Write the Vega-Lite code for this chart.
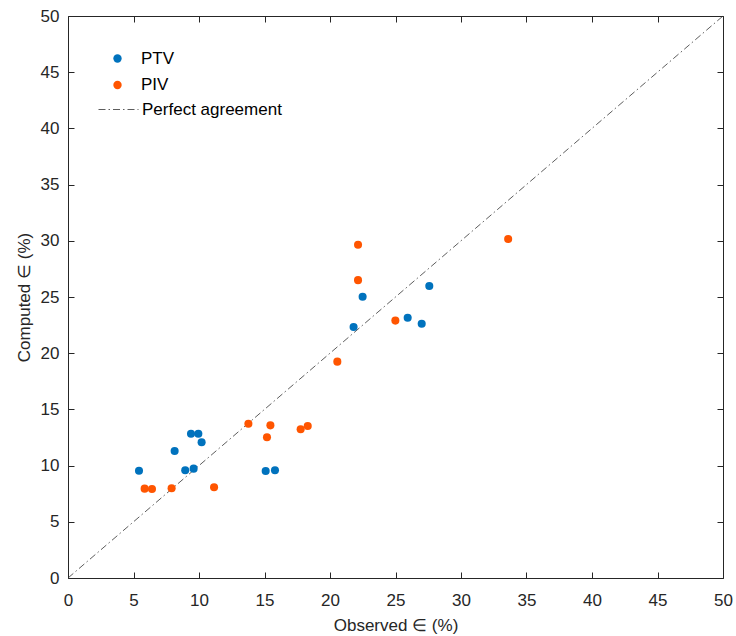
{
  "$schema": "https://vega.github.io/schema/vega-lite/v6.json",
  "autosize": "none",
  "width": 655,
  "height": 562,
  "padding": {"left": 68, "top": 16, "right": 13, "bottom": 58},
  "background": "white",
  "config": {
    "view": {"stroke": "#262626", "strokeWidth": 1},
    "font": "Liberation Sans",
    "axis": {
      "grid": false,
      "domain": false,
      "labelFlush": false,
      "labelOverlap": false,
      "tickColor": "#262626",
      "tickSize": -6,
      "tickWidth": 1,
      "labelColor": "#262626",
      "labelFontSize": 17,
      "labelFont": "Liberation Sans",
      "titleFont": "Liberation Sans",
      "titleFontSize": 17,
      "titleFontWeight": "normal",
      "titleColor": "#262626"
    },
    "legend": {"labelFontSize": 17, "labelColor": "#000000", "labelFont": "Liberation Sans"}
  },
  "datasets": {
    "pts": [
      {"series": "PTV", "observed": 5.42, "computed": 9.55},
      {"series": "PTV", "observed": 8.14, "computed": 11.3},
      {"series": "PTV", "observed": 9.39, "computed": 12.84},
      {"series": "PTV", "observed": 9.95, "computed": 12.84},
      {"series": "PTV", "observed": 10.2, "computed": 12.07},
      {"series": "PTV", "observed": 8.95, "computed": 9.58},
      {"series": "PTV", "observed": 9.59, "computed": 9.73},
      {"series": "PTV", "observed": 15.09, "computed": 9.52},
      {"series": "PTV", "observed": 15.8, "computed": 9.58},
      {"series": "PTV", "observed": 21.8, "computed": 22.33},
      {"series": "PTV", "observed": 22.49, "computed": 25.03},
      {"series": "PTV", "observed": 25.93, "computed": 23.16},
      {"series": "PTV", "observed": 27.0, "computed": 22.62},
      {"series": "PTV", "observed": 27.58, "computed": 25.98},
      {"series": "PIV", "observed": 5.85, "computed": 7.95},
      {"series": "PIV", "observed": 6.41, "computed": 7.92},
      {"series": "PIV", "observed": 7.91, "computed": 7.98},
      {"series": "PIV", "observed": 11.15, "computed": 8.07},
      {"series": "PIV", "observed": 13.77, "computed": 13.73},
      {"series": "PIV", "observed": 15.45, "computed": 13.58},
      {"series": "PIV", "observed": 15.19, "computed": 12.52},
      {"series": "PIV", "observed": 17.76, "computed": 13.23},
      {"series": "PIV", "observed": 18.3, "computed": 13.52},
      {"series": "PIV", "observed": 22.14, "computed": 29.65},
      {"series": "PIV", "observed": 22.14, "computed": 26.5},
      {"series": "PIV", "observed": 24.99, "computed": 22.9},
      {"series": "PIV", "observed": 20.56, "computed": 19.25},
      {"series": "PIV", "observed": 33.6, "computed": 30.16}
    ],
    "diag": [
      {"observed": 0, "computed": 0, "label": "Perfect agreement"},
      {"observed": 50, "computed": 50, "label": "Perfect agreement"}
    ]
  },
  "layer": [
    {
      "data": {"name": "diag"},
      "mark": {"type": "line", "color": "#333333", "strokeWidth": 0.8},
      "encoding": {
        "x": {"field": "observed", "type": "quantitative", "scale": {"domain": [0, 50], "nice": false},
              "axis": {"orient": "bottom", "values": [0,5,10,15,20,25,30,35,40,45,50], "title": "Observed ∈ (%)", "labelPadding": 20, "titlePadding": 9}},
        "y": {"field": "computed", "type": "quantitative", "scale": {"domain": [0, 50], "nice": false},
              "axis": {"orient": "left", "values": [0,5,10,15,20,25,30,35,40,45,50], "title": "Computed ∈ (%)", "labelPadding": 15, "titlePadding": 7}},
        "strokeDash": {
          "field": "label", "type": "nominal",
          "scale": {"domain": ["Perfect agreement"], "range": [[7, 3, 1.5, 3]]},
          "legend": {
            "orient": "none", "legendX": 30, "legendY": 73, "title": null,
            "symbolType": "stroke", "symbolSize": 1600, "labelOffset": 3,
            "symbolStrokeColor": "#333333", "symbolStrokeWidth": 0.8
          }
        }
      }
    },
    {
      "data": {"name": "pts"},
      "mark": {"type": "point", "filled": true, "opacity": 1, "size": 65},
      "encoding": {
        "x": {"field": "observed", "type": "quantitative",
              "axis": {"orient": "top", "values": [0,5,10,15,20,25,30,35,40,45,50], "labels": false, "title": null}},
        "y": {"field": "computed", "type": "quantitative",
              "axis": {"orient": "right", "values": [0,5,10,15,20,25,30,35,40,45,50], "labels": false, "title": null}},
        "color": {
          "field": "series", "type": "nominal",
          "scale": {"domain": ["PTV", "PIV"], "range": ["#0072BD", "#FF5500"]},
          "legend": {
            "orient": "none", "legendX": 41, "legendY": 34, "title": null,
            "symbolType": "circle", "symbolSize": 70, "labelOffset": 15, "rowPadding": 8.5,
            "symbolOpacity": 1, "symbolStrokeWidth": 0
          }
        }
      }
    }
  ],
  "resolve": {"axis": {"x": "independent", "y": "independent"}}
}
